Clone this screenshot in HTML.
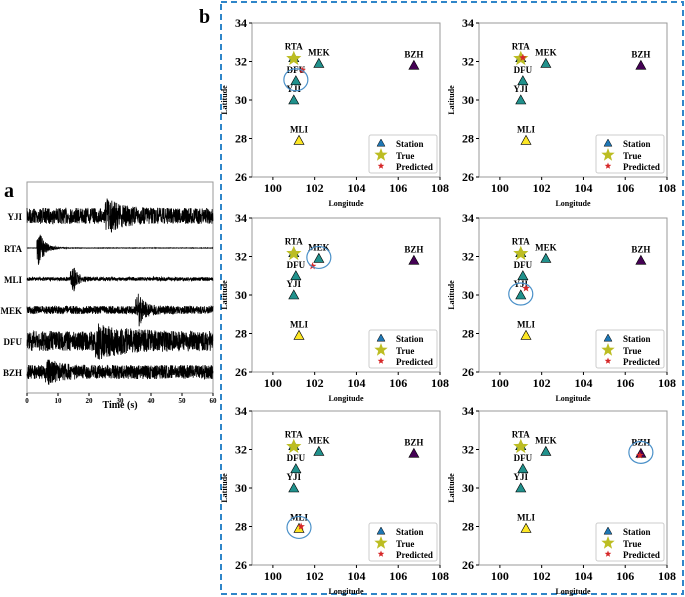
<!DOCTYPE html>
<html><head><meta charset="utf-8"><style>
body{margin:0;background:#fff;}
svg{display:block;font-family:"Liberation Serif",serif;font-weight:bold;}
</style></head><body>
<svg id="fig" width="685" height="597" viewBox="0 0 685 597">
<rect x="221" y="2" width="462" height="592" fill="none" stroke="#2f86c9" stroke-width="2" stroke-dasharray="6,4"/>
<text x="4" y="197" font-size="20">a</text>
<text x="199" y="23" font-size="20">b</text>
<g id="wave"></g>
<g id="maps"></g>
</svg>
<script>
const stations=["RTA","MEK","BZH","DFU","YJI","MLI"];
const stLon=[101.0,102.2,106.75,101.1,101.0,101.25];
const stLat=[32.2,31.9,31.8,31.0,30.0,27.9];
const stColor=["#21918c","#21918c","#440154","#21918c","#21918c","#fde725"];
const trueLon=[101.0], trueLat=[32.15];
const predLon=[101.4,101.1,101.9,101.25,101.35,106.7];
const predLat=[31.55,32.2,31.5,30.35,28.0,31.7];
const circleSt=["DFU",null,"MEK","YJI","MLI","BZH"];
const xTicks=[100,102,104,106,108], yTicks=[26,28,30,32,34];
const traceNames=["YJI","RTA","MLI","MEK","DFU","BZH"];
const timeTicks=[0,10,20,30,40,50,60];
const NS="http://www.w3.org/2000/svg";
function mk(p,t,a){const e=document.createElementNS(NS,t);for(const k in a)e.setAttribute(k,a[k]);p.appendChild(e);return e;}
function tri(x,y,s){return `${x},${y-s} ${x-s},${y+s*0.8} ${x+s},${y+s*0.8}`;}
function star(x,y,r){let p=[];for(let i=0;i<10;i++){const a=-Math.PI/2+i*Math.PI/5,rr=i%2?r*0.42:r;p.push((x+rr*Math.cos(a)).toFixed(1)+","+(y+rr*Math.sin(a)).toFixed(1));}return p.join(" ");}
const maps=document.getElementById('maps');
const cols=[252,479], rows=[23,218,411], W=188, H=154;
for(let i=0;i<6;i++){
 const L=cols[i%2], T=rows[Math.floor(i/2)];
 const X=v=>L+(v-99)/9*W, Y=v=>T+(34-v)/8*H;
 const g=mk(maps,'g',{});
 
 
 const fr=mk(g,'rect',{x:L,y:T,width:W,height:H,fill:'#fff',stroke:'#999','stroke-width':1});
 
 xTicks.forEach(v=>{mk(g,'line',{x1:X(v),x2:X(v),y1:T+H,y2:T+H+3,stroke:'#000'});const t=mk(g,'text',{x:X(v),y:T+H+15,'font-size':12,'text-anchor':'middle'});t.textContent=v;});
 yTicks.forEach(v=>{mk(g,'line',{x1:L-3,x2:L,y1:Y(v),y2:Y(v),stroke:'#000'});const t=mk(g,'text',{x:L-5,y:Y(v)+4,'font-size':12,'text-anchor':'end'});t.textContent=v;});
 const xl=mk(g,'text',{x:L+W/2,y:T+H+29,'font-size':8,'text-anchor':'middle'});xl.textContent='Longitude';
 
 const yl=mk(g,'text',{x:0,y:0,'font-size':8,'text-anchor':'middle',transform:`translate(${L-25},${T+H/2}) rotate(-90)`});yl.textContent='Latitude';
 
 stations.forEach((s,j)=>{
  const tr=mk(g,'polygon',{points:tri(X(stLon[j]),Y(stLat[j]),5),fill:stColor[j],stroke:'#000','stroke-width':0.6});
  
  const lt=mk(g,'text',{x:X(stLon[j]),y:Y(stLat[j])-8,'font-size':9,'text-anchor':'middle'});lt.textContent=s;
  
 });
 const ts=mk(g,'polygon',{points:star(X(trueLon[0]),Y(trueLat[0]),8),fill:'#bcbd22'});
 
 const ps=mk(g,'polygon',{points:star(X(predLon[i]),Y(predLat[i]),4),fill:'#d62728'});
 
 if(circleSt[i]){
 const k=stations.indexOf(circleSt[i]);
 const c=mk(g,'ellipse',{cx:X(stLon[k]),cy:Y(stLat[k])-1,rx:12,ry:11,fill:'none',stroke:'#4a90c8','stroke-width':1.2});
 }
 const lg=mk(g,'g',{});
 mk(lg,'rect',{x:L+117,y:T+112,width:68,height:38,fill:'#fff',stroke:'#ccc',rx:2});
 mk(lg,'polygon',{points:tri(L+129,T+120,4),fill:'#1f77b4',stroke:'#000','stroke-width':0.5});
 mk(lg,'polygon',{points:star(L+129,T+132,7),fill:'#bcbd22'});
 mk(lg,'polygon',{points:star(L+129,T+143,3.5),fill:'#d62728'});
 [['Station',124],['True',136],['Predicted',147]].forEach(a=>{const t=mk(lg,'text',{x:L+144,y:T+a[1],'font-size':9});t.textContent=a[0];});
}
const wv=document.getElementById('wave');
const WL=27,WR=213,WT=182,WB=393;
const wf=mk(wv,'rect',{x:WL,y:WT,width:WR-WL,height:WB-WT,fill:'#fff',stroke:'#999'});

const tX=t=>WL+t/60*(WR-WL);
timeTicks.forEach(v=>{mk(wv,'line',{x1:tX(v),x2:tX(v),y1:WB,y2:WB+3,stroke:'#000'});const t=mk(wv,'text',{x:tX(v),y:WB+10,'font-size':7,'text-anchor':'middle'});t.textContent=v;});
const tt=mk(wv,'text',{x:(WL+WR)/2,y:408,'font-size':10,'text-anchor':'middle'});tt.textContent='Time (s)';

const traceY=[216,248,279,310,341,372];
const envBase=[8,0.2,1.8,4,10,7];
const envT=[26,3.5,15,36,23,7];
const envA=[12,20,12,14,10,6];
const envD=[4,2,1.5,2,8,4];
let seed=7;function rnd(){seed=(seed*16807)%2147483647;return seed/2147483647-0.5;}
traceNames.forEach((n,i)=>{
 const lb=mk(wv,'text',{x:22,y:traceY[i]+4,'font-size':9,'text-anchor':'end'});lb.textContent=n;
 
 let d='';
 for(let k=0;k<=1200;k++){const t=k/20;let a=envBase[i];
  if(t>=envT[i]-1){const dt=t-envT[i];a+=envA[i]*Math.exp(-Math.abs(dt)/envD[i]);}
  if(i==1&&t<envT[i]-0.3)a=0.1;
  const y=traceY[i]+2*rnd()*a;d+=(k?'L':'M')+tX(t).toFixed(1)+','+y.toFixed(1);}
 const p=mk(wv,'path',{d:d,fill:'none',stroke:'#000','stroke-width':0.8});
 
});
</script>
</body></html>
